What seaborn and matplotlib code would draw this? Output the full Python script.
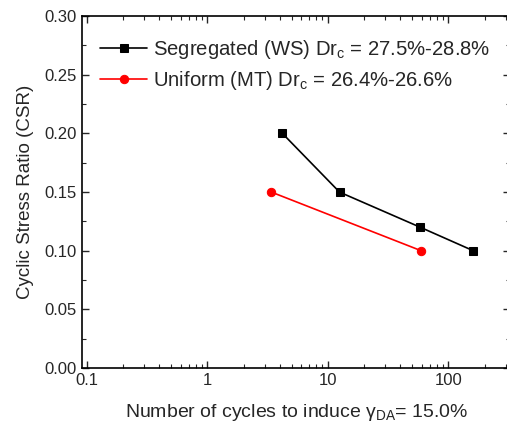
import numpy as np
import pandas as pd
import seaborn as sns
import matplotlib.pyplot as plt
from matplotlib.ticker import LogLocator, MultipleLocator, FixedFormatter, FixedLocator

# data
ws_cycles = [4.2, 12.5, 58.5, 161]
ws_csr = [0.20, 0.15, 0.12, 0.10]
mt_cycles = [3.4, 59.5]
mt_csr = [0.15, 0.10]

ws_label = r"Segregated (WS) Dr$_\mathregular{c}$ = 27.5%-28.8%"
mt_label = r"Uniform (MT) Dr$_\mathregular{c}$ = 26.4%-26.6%"

sns.set_style("ticks")
plt.rcParams['font.family'] = ['Liberation Sans', 'DejaVu Sans']
plt.rcParams['mathtext.fontset'] = 'custom'
plt.rcParams['mathtext.rm'] = 'Liberation Sans'
plt.rcParams['mathtext.it'] = 'Liberation Sans:italic'

fig = plt.figure(figsize=(5.07, 4.25), dpi=100)
ax = fig.add_axes([0.1617, 0.134, 0.845, 0.828])

ws = pd.DataFrame({'N': ws_cycles, 'CSR': ws_csr})
mt = pd.DataFrame({'N': mt_cycles, 'CSR': mt_csr})

sns.lineplot(data=ws, x='N', y='CSR', ax=ax, color='black', marker='s',
             markersize=5.5, markeredgecolor='black', linewidth=1.2, label=ws_label)
sns.lineplot(data=mt, x='N', y='CSR', ax=ax, color='red', marker='o',
             markersize=6, markeredgecolor='red', linewidth=1.2, label=mt_label)

ax.set_xscale('log')
ax.set_xlim(0.0913, 0.0913 * 10 ** (430 / 121))
ax.set_ylim(0, 0.30)

ax.xaxis.set_major_locator(FixedLocator([0.1, 1, 10, 100]))
ax.xaxis.set_major_formatter(FixedFormatter(['0.1', '1', '10', '100']))
ax.xaxis.set_minor_locator(LogLocator(base=10, subs=np.arange(2, 10)))
ax.yaxis.set_major_locator(MultipleLocator(0.05))
ax.yaxis.set_minor_locator(MultipleLocator(0.025))
ax.yaxis.set_major_formatter(plt.FormatStrFormatter('%.2f'))

ax.tick_params(which='both', direction='in', top=True, right=True, labelsize=12)
ax.tick_params(which='major', length=5, width=1)
ax.tick_params(which='minor', length=3, width=0.8)
for s in ax.spines.values():
    s.set_linewidth(1.2)
    s.set_color('black')

ax.set_xlabel(r"Number of cycles to induce $\mathregular{\gamma_{DA}}$= 15.0%", fontsize=14, labelpad=10)
ax.set_ylabel("Cyclic Stress Ratio (CSR)", fontsize=13.5, labelpad=8)

ax.legend(loc='upper left', frameon=False, fontsize=14.6, handlelength=2.3,
          handletextpad=0.3, labelspacing=0.4, bbox_to_anchor=(0.0, 0.99))

plt.savefig('out.png', dpi=100)
